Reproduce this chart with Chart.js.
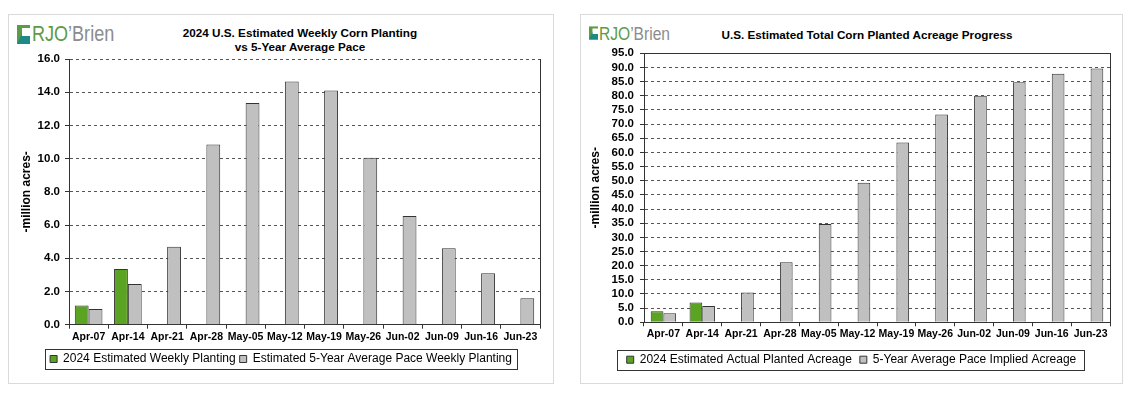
<!DOCTYPE html>
<html>
<head>
<meta charset="utf-8">
<script src="https://cdn.jsdelivr.net/npm/chart.js@4.4.1/dist/chart.umd.min.js"></script>
<style>
    body { margin: 0; background: #fff; width: 1137px; height: 398px; position: relative; overflow: hidden; font-family: 'Liberation Sans', Arial, sans-serif; }
    .panel { position: absolute; top: 14px; height: 370px; border: 1px solid #dadada; box-sizing: border-box; background: #fff; }
    .box { position: absolute; top: 14px; height: 370px; }
    .title { position: absolute; text-align: center; font-weight: bold; font-size: 11.7px; line-height: 14px; color: #000; }
    .logo { position: absolute; white-space: nowrap; font-family: 'Liberation Sans', Arial, sans-serif; color: #8c8c8c; }
    .logo svg { position: absolute; left: 0; }
    .logo .word { position: absolute; display: inline-block; transform: scaleX(0.82); transform-origin: left bottom; }
    .logo .rjo { color: #5d9b45; }
</style>
</head>
<body>
<div class="panel" style="left:8px; width:546px;"></div>
<div class="panel" style="left:580px; width:543px;"></div>

<div class="logo" style="left:17px; top:23px; font-size:22px; line-height:22px;">
    <svg width="13" height="19" viewBox="0 0 13 19" style="top:2px;">
        <rect x="0" y="0" width="13" height="19" fill="#5d9b45"/>
        <polygon points="5,3 13,3 13,11 5,11" fill="#fff"/>
        <polygon points="0,19 13,19 13,11 5,11 5,8" fill="#1d8a86"/>
    </svg>
    <span class="word" style="left:15px; top:0;"><span class="rjo">RJO</span>’Brien</span>
</div>
<div class="logo" style="left:589px; top:24px; font-size:19px; line-height:19px;">
    <svg width="9" height="16" viewBox="0 0 13 19" style="top:1px;">
        <rect x="0" y="0" width="13" height="19" fill="#5d9b45"/>
        <polygon points="5,3 13,3 13,11 5,11" fill="#fff"/>
        <polygon points="0,19 13,19 13,11 5,11 5,8" fill="#1d8a86"/>
    </svg>
    <span class="word" style="left:10px; top:0;"><span class="rjo">RJO</span>’Brien</span>
</div>

<div class="title" style="left:150px; width:300px; top:26px;">2024 U.S. Estimated Weekly Corn Planting<br>vs 5-Year Average Pace</div>
<div class="title" style="left:667px; width:400px; top:28px;">U.S. Estimated Total Corn Planted Acreage Progress</div>

<div class="box" style="left:8px; width:546px;"><canvas id="weeklyChart"></canvas></div>
<div class="box" style="left:580px; width:543px;"><canvas id="totalChart"></canvas></div>

<script>
// week labels
const weeks = ['Apr-07', 'Apr-14', 'Apr-21', 'Apr-28', 'May-05', 'May-12', 'May-19', 'May-26', 'Jun-02', 'Jun-09', 'Jun-16', 'Jun-23'];

// weekly planting, million acres
const weekly2024 = [1.15, 3.35, null, null, null, null, null, null, null, null, null, null];
const weeklyAvg = [0.95, 2.45, 4.7, 10.85, 13.35, 14.65, 14.1, 10.05, 6.55, 4.6, 3.1, 1.6];

// cumulative planted acreage, million acres
const total2024 = [3.9, 7.0, null, null, null, null, null, null, null, null, null, null];
const totalAvg = [3.2, 5.8, 10.5, 21.2, 34.7, 49.3, 63.5, 73.4, 80.0, 84.8, 87.8, 89.6];

const GREEN = '#5ba323';
const GRAY = '#c0c0c0';
const EDGE = '#333333';

Chart.defaults.font.family = "'Liberation Sans', Arial, sans-serif";
Chart.defaults.color = '#000';

// box round the legend + optional solid top edge of the plot
const framePlugin = {
    id: 'frame',
    afterDraw(chart, args, opts) {
        const ctx = chart.ctx;
        const boxes = chart.legend.legendHitBoxes;
        ctx.save();
        ctx.strokeStyle = EDGE;
        ctx.lineWidth = 1;
        if (boxes && boxes.length) {
            const first = boxes[0], last = boxes[boxes.length - 1];
            const l = Math.round(first.left - opts.padL) + 0.5;
            const r = Math.round(last.left + last.width + opts.padR) + 0.5;
            const t = Math.round(first.top - 4) + 0.5;
            const b = Math.round(first.top + first.height + 4) + 0.5;
            ctx.strokeRect(l, t, r - l, b - t);
        }
        if (opts.top) {
            const a = chart.chartArea;
            const y = Math.round(a.top) + 0.5;
            ctx.beginPath();
            ctx.moveTo(a.left, y);
            ctx.lineTo(a.right, y);
            ctx.stroke();
        }
        ctx.restore();
    }
};

function makeChart(id, cfg) {
    return new Chart(document.getElementById(id).getContext('2d'), {
        type: 'bar',
        data: {
            labels: weeks,
            datasets: [{
                label: cfg.names[0],
                data: cfg.series[0],
                backgroundColor: GREEN,
                borderColor: EDGE,
                borderWidth: 1
            }, {
                label: cfg.names[1],
                data: cfg.series[1],
                backgroundColor: GRAY,
                borderColor: EDGE,
                borderWidth: 1
            }]
        },
        options: {
            responsive: true,
            maintainAspectRatio: false,
            animation: false,
            categoryPercentage: cfg.groupWidth,
            barPercentage: 1.0,
            layout: { padding: { top: cfg.padTop, bottom: cfg.padBottom, left: 0, right: 0 } },
            plugins: {
                tooltip: { enabled: false },
                legend: {
                    position: 'bottom',
                    labels: {
                        boxWidth: 7,
                        boxHeight: 7,
                        padding: cfg.legendGap,
                        color: '#000',
                        font: { size: 12 }
                    }
                },
                frame: { padL: cfg.frameL, padR: cfg.frameR, top: cfg.solidTop }
            },
            scales: {
                x: {
                    grid: { display: true, drawOnChartArea: false, drawTicks: true, tickLength: 4, tickColor: EDGE, offset: true },
                    border: { display: true, color: EDGE, width: 1 },
                    ticks: { autoSkip: false, maxRotation: 0, padding: 2, color: '#000', font: { size: 10.5, weight: 'bold' } },
                    afterFit(s) { s.height = cfg.xHeight; }
                },
                y: {
                    min: 0,
                    max: cfg.max,
                    grid: { color: '#555', lineWidth: 1, drawTicks: true, tickLength: 4, tickColor: EDGE },
                    border: { display: true, color: EDGE, width: 1, dash: [3, 3] },
                    ticks: {
                        stepSize: cfg.step,
                        autoSkip: false,
                        padding: cfg.tickPad,
                        color: '#000',
                        font: { size: 11.5, weight: 'bold' },
                        callback: v => v.toFixed(1)
                    },
                    title: {
                        display: true,
                        text: '-million acres-',
                        color: '#000',
                        font: { size: 12, weight: 'bold' },
                        padding: { top: cfg.titlePad, bottom: 0 }
                    },
                    afterFit(s) { s.width = cfg.yWidth; }
                },
                y2: {
                    position: 'right',
                    grid: { display: false },
                    border: { display: true, color: EDGE, width: 1 },
                    ticks: { display: false },
                    afterFit(s) { s.width = cfg.rightGap; }
                }
            }
        },
        plugins: [framePlugin]
    });
}

makeChart('weeklyChart', {
    names: ['2024 Estimated Weekly Planting', 'Estimated 5-Year Average Pace Weekly Planting'],
    series: [weekly2024, weeklyAvg],
    max: 16, step: 2,
    groupWidth: 0.705,
    padTop: 45, padBottom: 9,
    xHeight: 24.3,
    yWidth: 61, rightGap: 14,
    tickPad: 5, titlePad: 11.3,
    legendGap: 4, frameL: 5, frameR: 5,
    solidTop: false
});

makeChart('totalChart', {
    names: ['2024 Estimated Actual Planted Acreage', '5-Year Average Pace Implied Acreage'],
    series: [total2024, totalAvg],
    max: 95, step: 5,
    groupWidth: 0.654,
    padTop: 39.3, padBottom: 8.3,
    xHeight: 23.4,
    yWidth: 64, rightGap: 13,
    tickPad: 6, titlePad: 8.8,
    legendGap: 8, frameL: 10, frameR: 8,
    solidTop: true
});
</script>
</body>
</html>
